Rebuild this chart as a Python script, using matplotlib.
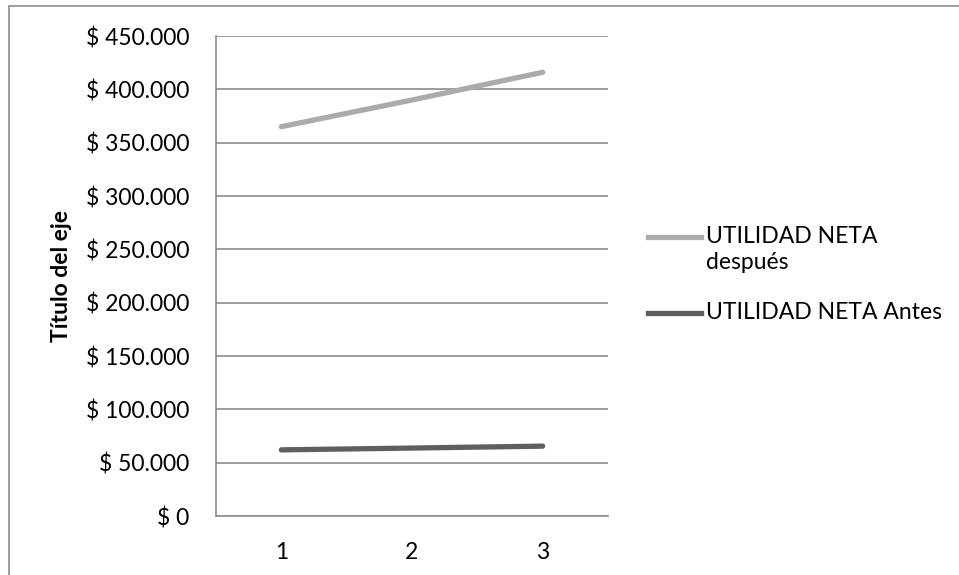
import matplotlib
matplotlib.use("Agg")
import matplotlib.pyplot as plt
from matplotlib.lines import Line2D
from matplotlib.patches import Rectangle
from matplotlib.ticker import FuncFormatter

plt.rcParams["font.family"] = ["Lato", "DejaVu Sans"]

periods = [1, 2, 3]
utilidad_despues = [365000, 390000, 416000]
utilidad_antes = [62000, 63700, 65500]
series_names = ["UTILIDAD NETA\ndespués", "UTILIDAD NETA Antes"]
series_colors = ["#ababab", "#5f5f5f"]
y_ticks = list(range(0, 450001, 50000))
y_title = "Título del eje"


def peso(v, _pos):
    return "$ " + f"{int(v):,}".replace(",", ".")


W, H = 959, 575
fs = 16.5
lw = 3.8
fig = plt.figure(figsize=(W / 100, H / 100), dpi=100)
ax = fig.add_axes([216 / W, 1 - 516 / H, (608 - 216) / W, (516 - 36) / H])

ax.plot(periods, utilidad_despues, color=series_colors[0], lw=lw, solid_capstyle="round")
ax.plot(periods, utilidad_antes, color=series_colors[1], lw=lw, solid_capstyle="round")

ax.set_xlim(0.5, 3.5)
ax.set_ylim(0, 450000)
ax.set_xticks(periods)
ax.set_yticks(y_ticks)
ax.yaxis.set_major_formatter(FuncFormatter(peso))
ax.grid(axis="y", color="#8c8c8c", lw=1.2)
ax.set_axisbelow(True)
for side in ["top", "right"]:
    ax.spines[side].set_visible(False)
for side in ["left", "bottom"]:
    ax.spines[side].set_color("#8c8c8c")
    ax.spines[side].set_linewidth(1.2)
ax.tick_params(axis="y", length=0, pad=19, labelsize=fs)
ax.tick_params(axis="x", length=0, pad=19, labelsize=fs)
ax.set_ylabel(y_title, fontsize=fs, fontweight="bold", labelpad=10)

# legend drawn by hand so the key sits on the first text line
legend_rows = [237, 313]
for name, color, row in zip(series_names, series_colors, legend_rows):
    y = 1 - row / H
    fig.add_artist(Line2D([648 / W, 701 / W], [y, y], transform=fig.transFigure,
                          color=color, lw=lw))
    fig.text(706 / W, y + 11 / H, name, fontsize=fs, va="top", ha="left",
             linespacing=1.3)

# outer chart frame, open to the right and bottom
fig.patches.append(Rectangle((9 / W, -0.1), 1.2, (1 - 6 / H) + 0.1, transform=fig.transFigure,
                             fill=False, edgecolor="#8c8c8c", lw=1.2))

fig.savefig("out.png", dpi=100)
